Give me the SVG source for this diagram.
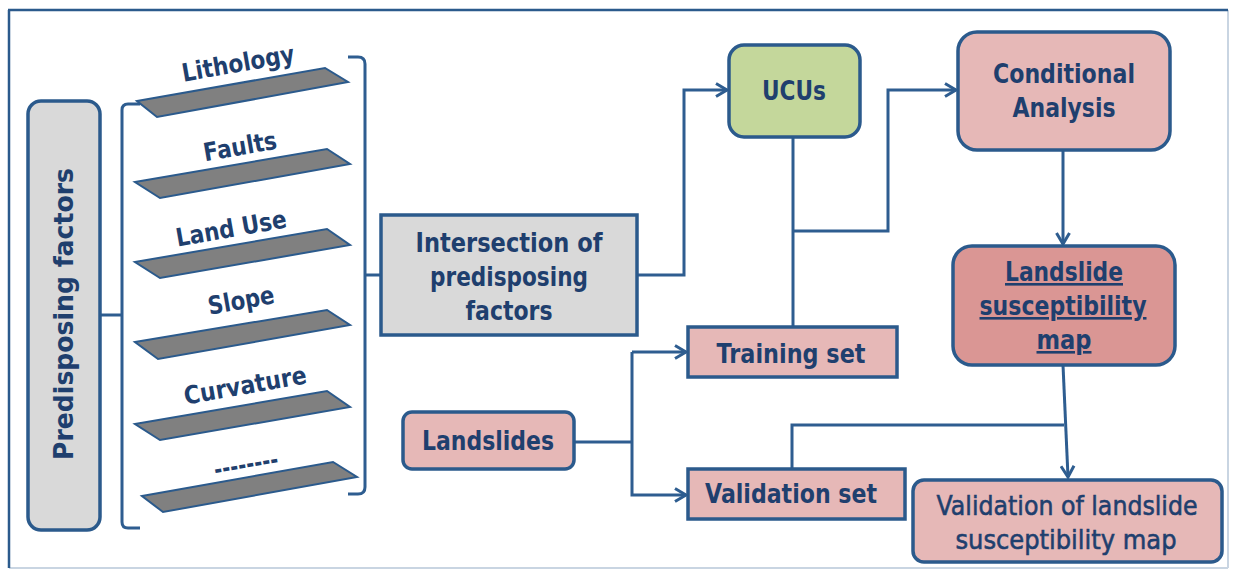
<svg xmlns="http://www.w3.org/2000/svg" width="1234" height="571" viewBox="0 0 1234 571">
<defs>
<style>
.box{stroke:#2b5a8c;stroke-width:3.5}
.grey{fill:#d9d9d9}
.pink{fill:#e6b8b7}
.green{fill:#c4d79b}
.dpink{fill:#da9694}
.slab{fill:#808080;stroke:#2b5a8c;stroke-width:2}
.t{font-family:"DejaVu Sans","Liberation Sans",sans-serif;font-weight:bold;fill:#1f3f6e;text-anchor:middle}
.tn{font-family:"DejaVu Sans","Liberation Sans",sans-serif;font-weight:normal;fill:#1f3f6e;text-anchor:middle}
.c{fill:none;stroke:#2e5d90;stroke-width:3}
</style>
<marker id="arr" markerUnits="userSpaceOnUse" markerWidth="16" markerHeight="16" refX="13" refY="8" orient="auto">
<path d="M2,1.5 L13,8 L2,14.5" fill="none" stroke="#2e5d90" stroke-width="3"/>
</marker>
</defs>
<rect width="1234" height="571" fill="#ffffff"/>
<g id="frame">
<line x1="1228" y1="10" x2="1228" y2="568" stroke="#c9d5e2" stroke-width="2"/>
<line x1="9" y1="568" x2="1228" y2="568" stroke="#c9d5e2" stroke-width="2"/>
<line x1="8" y1="10" x2="1228" y2="10" stroke="#2b5a8c" stroke-width="2.5"/>
<line x1="9" y1="10" x2="9" y2="568" stroke="#2b5a8c" stroke-width="2.5"/>
</g>
<g id="connectors">
<path class="c" d="M140,104 L128,104 Q122,104 122,110 L122,522 Q122,528 128,528 L140,528"/>
<path class="c" d="M100,315 L122,315"/>
<path class="c" d="M348,57 L358,57 Q365,57 365,64 L365,487 Q365,494 358,494 L348,494"/>
<path class="c" d="M365,275 L381,275"/>
<path class="c" d="M637,275 L684,275 L684,90 L727,90" marker-end="url(#arr)"/>
<path class="c" d="M793,137 L793,327"/>
<path class="c" d="M793,231 L888,231 L888,90 L956,90" marker-end="url(#arr)"/>
<path class="c" d="M1063,150 L1063,244" marker-end="url(#arr)"/>
<path class="c" d="M1063,365 L1068,477" marker-end="url(#arr)"/>
<path class="c" d="M792,468 L792,425 L1064,425"/>
<path class="c" d="M574,442 L632,442"/>
<path class="c" d="M632,352 L686,352" marker-end="url(#arr)"/>
<path class="c" d="M632,352 L632,495 L686,495" marker-end="url(#arr)"/>
</g>
<g id="predisposing">
<rect class="box grey" x="28" y="101" width="72" height="429" rx="13"/>
<text class="t" font-size="26" transform="translate(64,314) rotate(-90)" x="0" y="9" textLength="292" lengthAdjust="spacingAndGlyphs">Predisposing factors</text>
</g>
<g id="lithology">
<polygon class="slab" points="137,101 325,68 348,82 157,117"/>
<text class="t" font-size="25" transform="rotate(-10 238 63)" x="238" y="72" textLength="114" lengthAdjust="spacingAndGlyphs">Lithology</text>
</g>
<g id="faults">
<polygon class="slab" points="135,182 327,149 350,164 160,198"/>
<text class="t" font-size="25" transform="rotate(-10 240 146)" x="240" y="155" textLength="74" lengthAdjust="spacingAndGlyphs">Faults</text>
</g>
<g id="landuse">
<polygon class="slab" points="135,262 327,229 350,245 160,278"/>
<text class="t" font-size="25" transform="rotate(-10 231 228)" x="231" y="237" textLength="112" lengthAdjust="spacingAndGlyphs">Land Use</text>
</g>
<g id="slope">
<polygon class="slab" points="135,342 327,310 350,325 158,359"/>
<text class="t" font-size="25" transform="rotate(-10 241 300)" x="241" y="309" textLength="67" lengthAdjust="spacingAndGlyphs">Slope</text>
</g>
<g id="curvature">
<polygon class="slab" points="135,424 327,391 350,407 160,440"/>
<text class="t" font-size="25" transform="rotate(-10 245 385)" x="245" y="394" textLength="124" lengthAdjust="spacingAndGlyphs">Curvature</text>
</g>
<g id="other">
<polygon class="slab" points="142,496 333,462 357,477 163,512"/>
<text class="t" font-size="25" transform="rotate(-10 246 464)" x="246" y="473" textLength="65" lengthAdjust="spacingAndGlyphs">--------</text>
</g>
<g id="intersection">
<rect class="box grey" x="381" y="215" width="256" height="120"/>
<text class="t" font-size="26" x="509" y="252" textLength="187" lengthAdjust="spacingAndGlyphs">Intersection of</text>
<text class="t" font-size="26" x="509" y="286" textLength="158" lengthAdjust="spacingAndGlyphs">predisposing</text>
<text class="t" font-size="26" x="509" y="320" textLength="87" lengthAdjust="spacingAndGlyphs">factors</text>
</g>
<g id="ucus">
<rect class="box green" x="729" y="45" width="131" height="92" rx="15"/>
<text class="t" font-size="26" x="794" y="100" textLength="64" lengthAdjust="spacingAndGlyphs">UCUs</text>
</g>
<g id="conditional">
<rect class="box pink" x="958" y="32" width="212" height="118" rx="19"/>
<text class="t" font-size="26" x="1064" y="83" textLength="142" lengthAdjust="spacingAndGlyphs">Conditional</text>
<text class="t" font-size="26" x="1064" y="117" textLength="103" lengthAdjust="spacingAndGlyphs">Analysis</text>
</g>
<g id="lsm">
<rect class="box dpink" x="953" y="246" width="222" height="119" rx="19"/>
<text class="t" font-size="26" x="1064" y="281" textLength="118" lengthAdjust="spacingAndGlyphs" text-decoration="underline">Landslide</text>
<text class="t" font-size="26" x="1063" y="315" textLength="167" lengthAdjust="spacingAndGlyphs" text-decoration="underline">susceptibility</text>
<text class="t" font-size="26" x="1064" y="349" textLength="55" lengthAdjust="spacingAndGlyphs" text-decoration="underline">map</text>
</g>
<g id="training">
<rect class="box pink" x="688" y="327" width="209" height="50"/>
<text class="t" font-size="26" x="791" y="363" textLength="149" lengthAdjust="spacingAndGlyphs">Training set</text>
</g>
<g id="landslides">
<rect class="box pink" x="403" y="412" width="171" height="57" rx="9"/>
<text class="t" font-size="26" x="488" y="450" textLength="132" lengthAdjust="spacingAndGlyphs">Landslides</text>
</g>
<g id="validation">
<rect class="box pink" x="688" y="469" width="217" height="50"/>
<text class="t" font-size="26" x="791" y="503" textLength="172" lengthAdjust="spacingAndGlyphs">Validation set</text>
</g>
<g id="validationmap">
<rect class="box pink" x="913" y="480" width="309" height="82" rx="11"/>
<text class="tn" font-size="26" x="1067" y="515" textLength="261" lengthAdjust="spacingAndGlyphs" stroke="#1f3f6e" stroke-width="0.6">Validation of landslide</text>
<text class="tn" font-size="26" x="1066" y="549" textLength="221" lengthAdjust="spacingAndGlyphs" stroke="#1f3f6e" stroke-width="0.6">susceptibility map</text>
</g>
</svg>
